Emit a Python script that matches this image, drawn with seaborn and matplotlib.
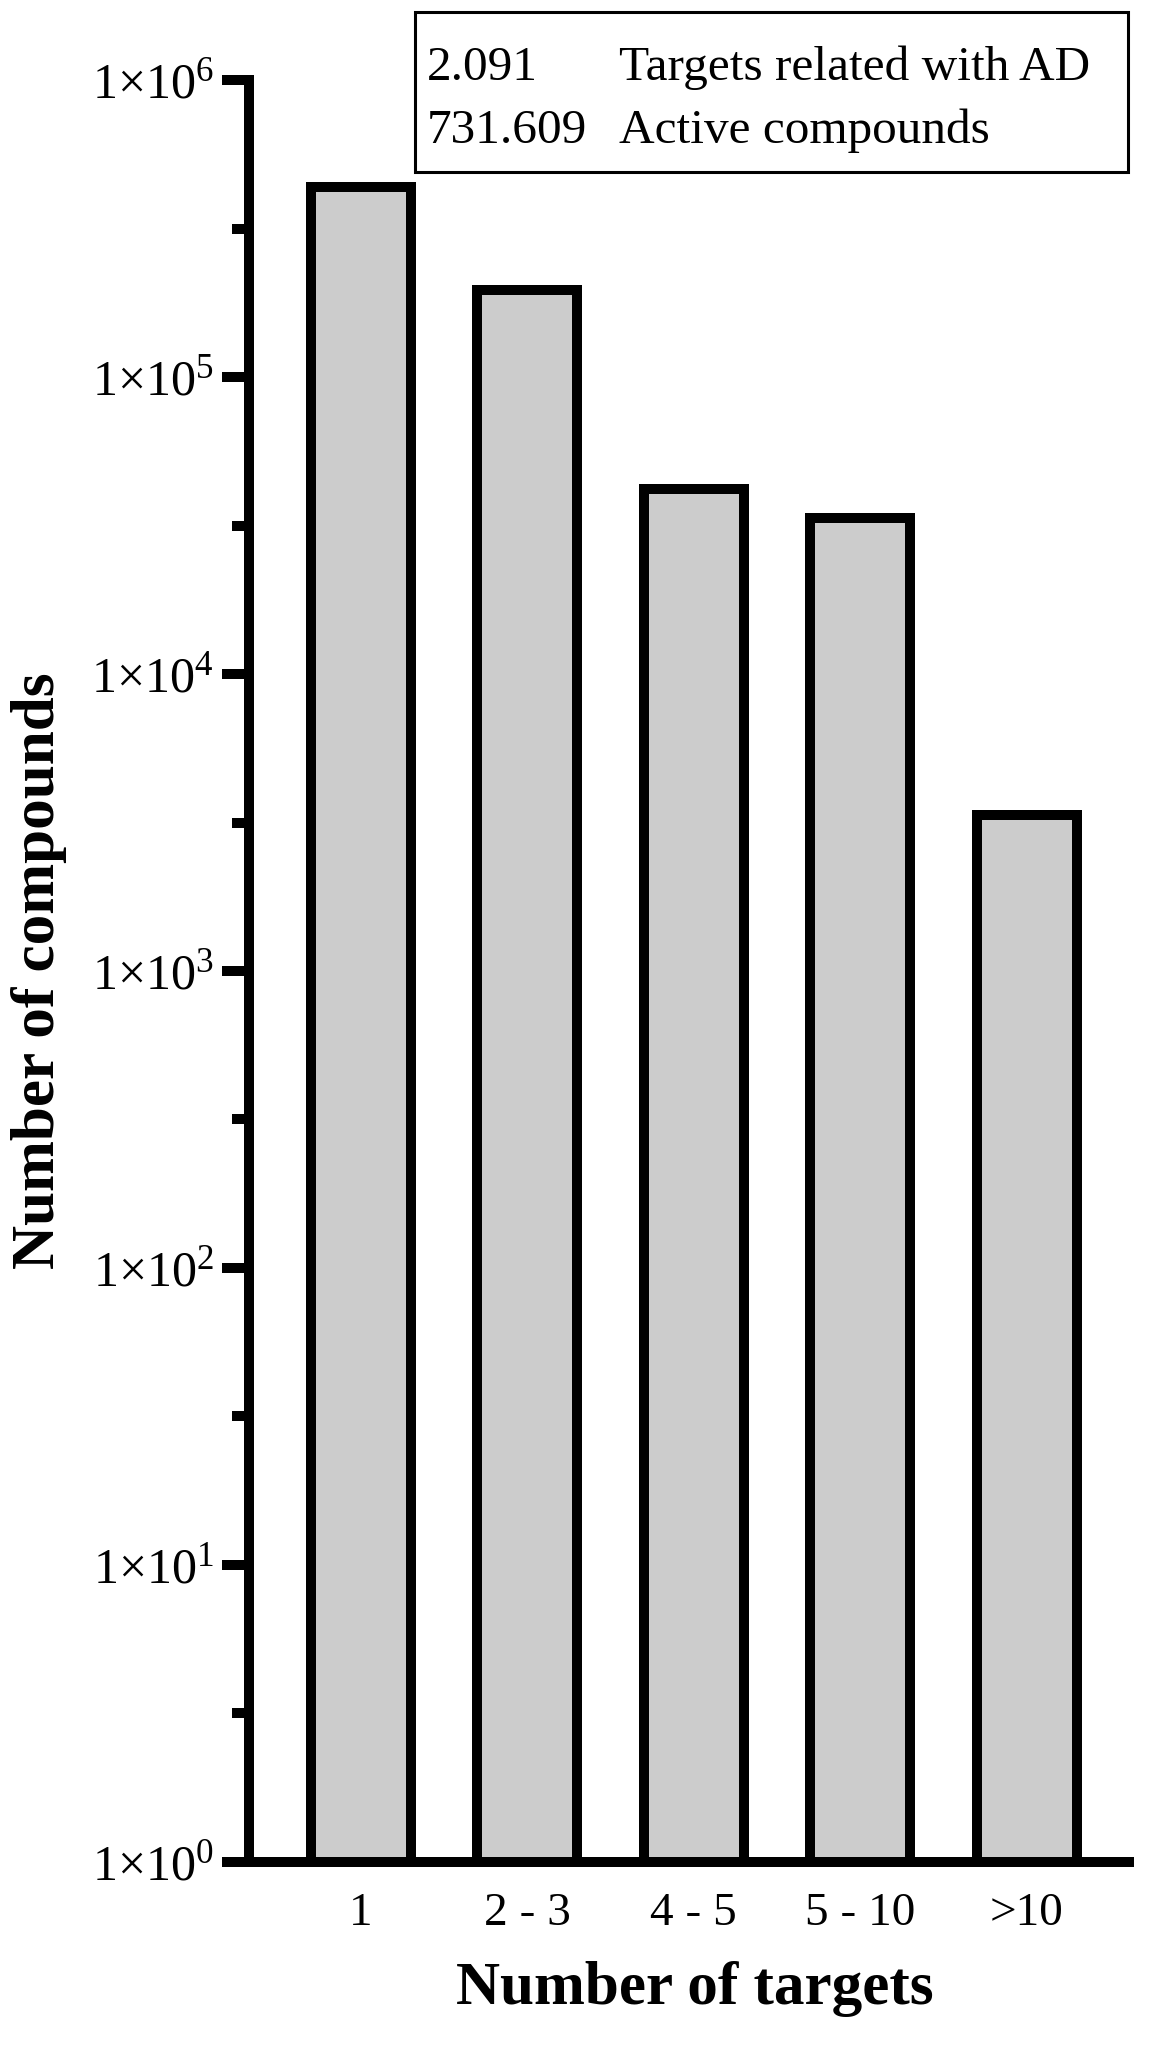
import numpy as np
import pandas as pd
import matplotlib
matplotlib.use("Agg")
import matplotlib.pyplot as plt
import seaborn as sns
from matplotlib.patches import Rectangle

# data
categories = ["1", "2 - 3", "4 - 5", "5 - 10", ">10"]
compounds = [438000, 196000, 42000, 33600, 3350]
summary_counts = ["2.091", "731.609"]
summary_labels = ["Targets related with AD", "Active compounds"]
decades = [0, 1, 2, 3, 4, 5, 6]

df = pd.DataFrame({"targets": categories, "compounds": compounds})

sns.set_style("ticks")
plt.rcParams["font.family"] = ["Liberation Serif", "DejaVu Serif"]
plt.rcParams["mathtext.fontset"] = "custom"
plt.rcParams["mathtext.rm"] = "Liberation Serif"
plt.rcParams["mathtext.it"] = "Liberation Serif:italic"
plt.rcParams["mathtext.bf"] = "Liberation Serif:bold"
for key in ["axes.edgecolor", "xtick.color", "ytick.color", "text.color",
            "axes.labelcolor"]:
    plt.rcParams[key] = "black"

fig = plt.figure(figsize=(11.58, 20.48), dpi=100)
ax = fig.add_axes([0.215, 0.091, 0.76, 0.8698])

sns.barplot(data=df, x="targets", y="compounds", color="#cccccc",
            edgecolor="black", linewidth=7.2, width=0.6, saturation=1,
            ax=ax)
for p in ax.patches:
    p.set_facecolor("#cccccc")

ax.set_yscale("log")
ax.set_ylim(1, 1e6)
ax.set_xlim(-0.673, 4.615)

# ticks
ax.set_yticks([10.0 ** k for k in decades])
ax.set_yticklabels(["1×10$^{%d}$" % k for k in decades])
ax.set_yticks([10.0 ** (k + 0.5) for k in decades[:-1]], minor=True)
ax.tick_params(axis="y", which="major", length=19.4, width=7.2,
               labelsize=36, pad=6)
ax.tick_params(axis="y", which="minor", length=12.5, width=7.2)
ax.tick_params(axis="x", length=0, labelsize=34, pad=22)

for side in ["top", "right"]:
    ax.spines[side].set_visible(False)
for side in ["left", "bottom"]:
    ax.spines[side].set_linewidth(7.2)
    ax.spines[side].set_capstyle("projecting")

ax.set_xlabel("Number of targets", fontsize=44, fontweight="bold")
ax.set_ylabel("Number of compounds", fontsize=44, fontweight="bold")
ax.xaxis.set_label_coords(0.507, -0.056)
ax.yaxis.set_label_coords(-0.207, 0.5)

# summary box in the top right
W, H = 1158, 2048
fig.patches.append(Rectangle((415 / W, 1 - 172 / H), (1128 - 415) / W,
                             (172 - 12) / H, transform=fig.transFigure,
                             fill=False, edgecolor="black", linewidth=2.2))
row_base = [80, 143]
for cnt, lab, yb in zip(summary_counts, summary_labels, row_base):
    fig.text(427 / W, 1 - yb / H, cnt, fontsize=35.5, va="baseline", ha="left")
    fig.text(619 / W, 1 - yb / H, lab, fontsize=35.5, va="baseline", ha="left")

fig.savefig("out.png", dpi=100)
